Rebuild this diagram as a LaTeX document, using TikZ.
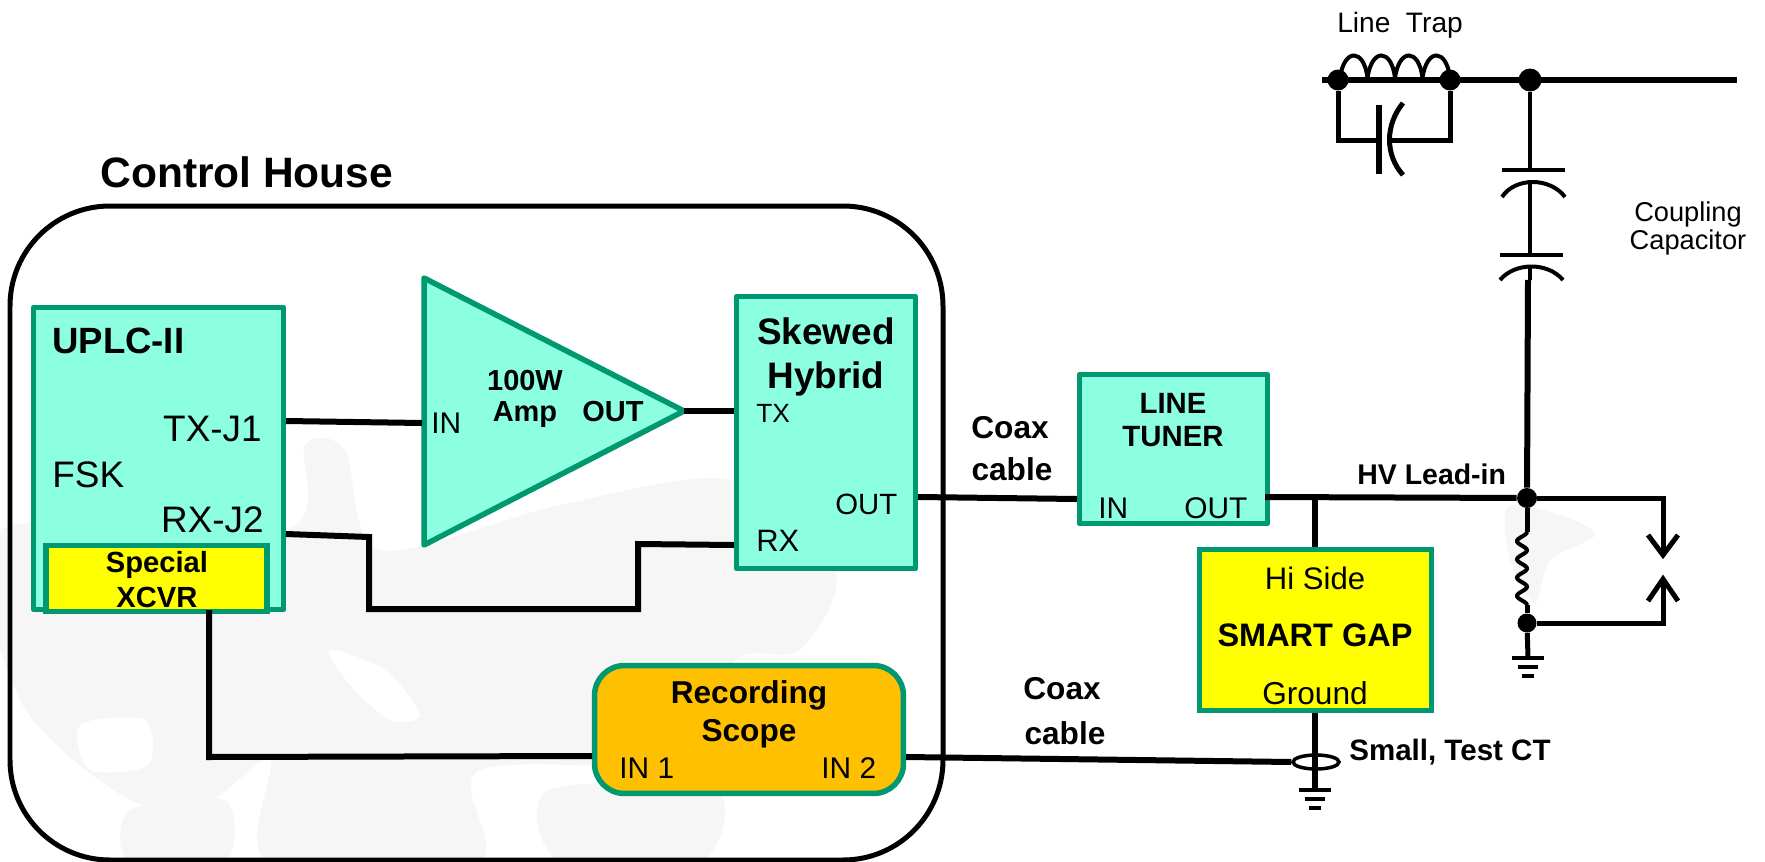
\documentclass[tikz,border=0pt]{standalone}
\usepackage{fontspec}
\usepackage{xcolor}
\setmainfont{Liberation Sans}
\usetikzlibrary{positioning,calc,shapes.geometric}
\definecolor{tealline} {HTML}{009870}
\definecolor{tealfill} {HTML}{8CFFE0}
\definecolor{gapyellow}{HTML}{FFFF00}
\definecolor{scopeamb} {HTML}{FFC000}
\definecolor{mapland}  {HTML}{F6F6F6}
\newcommand{\fsz}[1]{\fontsize{#1}{#1}\selectfont}
\tikzset{
  tealbox/.style={draw=tealline,fill=tealfill,line width=0.11cm,line join=round},
  yellowbox/.style={draw=tealline,fill=gapyellow,line width=0.11cm},
  scopebox/.style={draw=tealline,fill=scopeamb,line width=0.11cm,rounded corners=0.6cm},
  wire/.style={draw=black,line width=0.12cm},
  midwire/.style={draw=black,line width=0.1cm},
  thinwire/.style={draw=black,line width=0.08cm},
  dot/.style={circle,fill=black,inner sep=0pt},
  plain/.style={inner sep=0pt,align=center},
  boldtxt/.style={plain,font=\bfseries}
}
\begin{document}
\begin{tikzpicture}[x=0.02cm,y=-0.02cm]
  \useasboundingbox (0,0) rectangle (1765,862);
  % map behind everything
  \begin{scope}
    \clip (0,425) rectangle (943,862);
    \fill[mapland] plot[smooth cycle] coordinates {(0,530) (285,530) (305,445) (345,450) (380,550) (560,505) (730,480) (835,570) (800,650) (735,660) (700,760) (480,770) (478,862) (268,862) (270,760) (210,800) (130,800) (20,700)};
    \fill[mapland] plot[smooth cycle] coordinates {(130,810) (225,800) (225,862) (130,862)};
    \fill[mapland] plot[smooth cycle] coordinates {(548,790) (715,790) (700,862) (560,862)};
    \fill[white] plot[smooth cycle] coordinates {(80,725) (145,720) (148,765) (90,770)};
    \fill[white] plot[smooth cycle] coordinates {(330,650) (385,670) (420,715) (390,720) (350,685)};
  \end{scope}
  \fill[mapland] plot[smooth cycle] coordinates {(1508,507) (1560,515) (1595,535) (1550,560) (1535,603) (1510,560)};
  % control house
  \draw[black,line width=0.1cm,rounded corners=2cm] (10,206) rectangle (943,860);
  \node[boldtxt,font=\bfseries\fsz{24.2pt},anchor=west] (househead) at (100,172) {Control House};
  % blocks
  \node[tealbox,minimum width=5cm,minimum height=6.04cm] (uplc) at (158.5,458.5) {};
  \node[yellowbox,minimum width=4.42cm,minimum height=1.32cm] (xcvr) at (156.5,578.5) {};
  \coordinate (amptop) at (424,278);
  \coordinate (ampbot) at (424,545);
  \coordinate (amptip) at (684,411);
  \draw[tealbox] (amptop) -- (amptip) -- (ampbot) -- cycle;
  \node[tealbox,minimum width=3.58cm,minimum height=5.44cm] (hybrid) at (826,432.5) {};
  \node[tealbox,minimum width=3.76cm,minimum height=2.98cm] (tuner) at (1173.5,449) {};
  \node[yellowbox,minimum width=4.64cm,minimum height=3.22cm] (smartgap) at (1315.5,630) {};
  \node[scopebox,minimum width=6.18cm,minimum height=2.56cm] (scope) at (749,729.5) {};
  % block texts
  \node[boldtxt,font=\bfseries\fsz{20.8pt},anchor=west] (uplchead) at (52,341) {UPLC-II};
  \node[plain,font=\fsz{21pt},anchor=east] (txj) at (262,429) {TX-J1};
  \node[plain,font=\fsz{21pt},anchor=west] (fsk) at (52,475) {FSK};
  \node[plain,font=\fsz{21pt},anchor=east] (rxj) at (264,520) {RX-J2};
  \node[boldtxt,font=\bfseries\fsz{16.6pt}] (spec) at (157,565) {Special};
  \node[boldtxt,font=\bfseries\fsz{16.6pt}] (xcvrtxt) at (157,597) {XCVR};
  \node[plain,font=\fsz{17pt},anchor=west] (ampin) at (431,423) {IN};
  \node[boldtxt,font=\bfseries\fsz{16.5pt}] (amphead) at (525,381) {100W};
  \node[boldtxt,font=\bfseries\fsz{16.5pt}] (ampsub) at (525,415) {Amp};
  \node[boldtxt,font=\bfseries\fsz{16.5pt},anchor=west] (ampout) at (582,412) {OUT};
  \node[boldtxt,font=\bfseries\fsz{21pt}] (hybtop) at (826,331) {Skewed};
  \node[boldtxt,font=\bfseries\fsz{21pt}] (hybbot) at (826,379) {Hybrid};
  \node[plain,font=\fsz{15pt},anchor=west] (hybtx) at (756,413) {TX};
  \node[plain,font=\fsz{16.7pt},anchor=west] (hybout) at (835,504) {OUT};
  \node[plain,font=\fsz{17.6pt},anchor=west] (hybrx) at (756,541) {RX};
  \node[boldtxt,font=\bfseries\fsz{16.7pt}] (tuntop) at (1173,403) {LINE};
  \node[boldtxt,font=\bfseries\fsz{16.7pt}] (tunbot) at (1173,437) {TUNER};
  \node[plain,font=\fsz{17pt},anchor=west] (tunin) at (1098,508) {IN};
  \node[plain,font=\fsz{17pt},anchor=west] (tunout) at (1184,508) {OUT};
  \node[plain,font=\fsz{17.7pt}] (hiside) at (1315,578) {Hi Side};
  \node[boldtxt,font=\bfseries\fsz{18.5pt}] (gaptxt) at (1315,635) {SMART GAP};
  \node[plain,font=\fsz{18pt}] (gndtxt) at (1315,693) {Ground};
  \node[boldtxt,font=\bfseries\fsz{18pt}] (rectop) at (749,695) {Recording};
  \node[boldtxt,font=\bfseries\fsz{18pt}] (recbot) at (749,734) {Scope};
  \node[plain,font=\fsz{17pt},anchor=west] (inone) at (619,768) {IN 1};
  \node[plain,font=\fsz{17pt},anchor=west] (intwo) at (821,768) {IN 2};
  % free labels
  \node[boldtxt,font=\bfseries\fsz{18pt}] (coaxa) at (1010,428) {Coax};
  \node[boldtxt,font=\bfseries\fsz{18pt}] (cablea) at (1012,469) {cable};
  \node[boldtxt,font=\bfseries\fsz{18pt}] (coaxb) at (1062,689) {Coax};
  \node[boldtxt,font=\bfseries\fsz{18pt}] (cableb) at (1065,733) {cable};
  \node[boldtxt,font=\bfseries\fsz{16.2pt},anchor=west] (leadin) at (1357,474) {HV Lead-in};
  \node[boldtxt,font=\bfseries\fsz{16.8pt},anchor=west] (testct) at (1349,752) {Small, Test CT};
  \node[plain,font=\fsz{16pt}] (linetrap) at (1400,25) {Line\ \ Trap};
  \node[plain,font=\fsz{15.5pt}] (coupa) at (1688,214) {Coupling};
  \node[plain,font=\fsz{15.5pt}] (coupb) at (1688,242) {Capacitor};
  % house wiring
  \coordinate (txport) at (286,421);
  \coordinate (ampport) at (422,423);
  \coordinate (rxport) at (286,534);
  \coordinate (rxa) at (369,537);
  \coordinate (rxb) at (369,609);
  \coordinate (rxc) at (638,609);
  \coordinate (rxd) at (638,544);
  \coordinate (hybrxport) at (734,545);
  \coordinate (xcvrout) at (209,610);
  \coordinate (xcvrb) at (209,757);
  \coordinate (scopea) at (592,756);
  \coordinate (scopeb) at (906,757);
  \draw[wire] (txport) -- (ampport);
  \draw[wire] (rxport) -- (rxa) -- (rxb) -- (rxc) -- (rxd) -- (hybrxport);
  \draw[wire] (amptip) -- (hybrid.west |- amptip);
  \draw[wire] (xcvrout) -- (xcvrb) -- (scopea);
  % line side
  \coordinate (lineleft) at (1322,80);
  \coordinate (lineright) at (1737,80);
  \node[dot,minimum size=0.42cm] (trapl) at (1338,80) {};
  \node[dot,minimum size=0.42cm] (trapr) at (1450,80) {};
  \node[dot,minimum size=0.46cm] (capdot) at (1530,80) {};
  \node[dot,minimum size=0.4cm] (leaddot) at (1527,498) {};
  \node[dot,minimum size=0.38cm] (gapdot) at (1527,623) {};
  \coordinate (hybport) at (918,497);
  \coordinate (tunerin) at (1077,499);
  \coordinate (tunerout) at (1265,497);
  \coordinate (gaptap) at (1315,497);
  \draw[wire] (hybport) -- (tunerin);
  \draw[wire] (tunerout) -- (leaddot);
  \draw[wire] (gaptap) -- (smartgap.north -| gaptap);
  \draw[wire] (lineleft) -- (lineright);
  % trap
  \foreach \i in {0,1,2,3}
    \draw[thinwire] (1340+\i*27.5,78) .. controls (1344+\i*27.5,48) and (1364+\i*27.5,48) .. (1367.5+\i*27.5,78);
  \coordinate (trapcl) at (1379,140);
  \coordinate (trapcr) at (1391,140);
  \draw[midwire] (trapl) -- (trapl |- trapcl) -- (trapcl);
  \draw[midwire] (trapr) -- (trapr |- trapcr) -- (trapcr);
  \draw[line width=0.11cm] (1379,105) -- (1379,174);
  \draw[midwire] (1403,103) .. controls (1385,125) and (1385,155) .. (1403,175);
  % coupling capacitor
  \coordinate (cplatea) at (1530,170);
  \coordinate (cplateb) at (1530,255);
  \coordinate (cbotwire) at (1528,280);
  \draw[thinwire] (capdot) -- (cplatea);
  \draw[thinwire] (1502,170) -- (1565,170);
  \draw[thinwire] (1502,197) .. controls (1515,177) and (1550,177) .. (1565,197);
  \draw[thinwire] (1530,183) -- (cplateb);
  \draw[thinwire] (1500,255) -- (1563,255);
  \draw[thinwire] (1500,280) .. controls (1515,262) and (1548,262) .. (1563,280);
  \draw[thinwire] (1530,268) -- (1530,280);
  \draw[wire] (cbotwire) -- (leaddot);
  % lead in, gap and grounds
  \coordinate (coilt) at (1527,532);
  \coordinate (coilb) at (1527,605);
  \coordinate (uparc) at (1663,498);
  \coordinate (lowarc) at (1663,623);
  \coordinate (uptip) at (1663,555);
  \coordinate (lowtip) at (1663,579);
  \draw[midwire] (leaddot) -- (coilt);
  \draw[thinwire] plot[domain=0:4,samples=70,smooth] ({1522+5*cos(360*\x)},{532+18.25*\x});
  \draw[midwire] (coilb) -- (gapdot);
  \draw[midwire] (leaddot) -- (uparc) -- (uptip);
  \draw[midwire] (gapdot) -- (lowarc) -- (lowtip);
  \draw[midwire] (1648,535) -- (uptip) -- (1678,535);
  \draw[midwire] (1648,601) -- (lowtip) -- (1678,601);
  \coordinate (gndlead) at (1528,658);
  \coordinate (gndct) at (1315,790);
  \draw[midwire] (gapdot) -- (gndlead);
  \draw[wire] (smartgap.south -| gndct) -- (gndct);
  \foreach \gx/\gy in {1528/658,1315/790} {
    \draw[line width=0.09cm] (\gx-16,\gy) -- (\gx+16,\gy);
    \draw[line width=0.09cm] (\gx-10,\gy+9) -- (\gx+10,\gy+9);
    \draw[line width=0.09cm] (\gx-6,\gy+18) -- (\gx+6,\gy+18);
  }
  \node[draw=black,line width=0.07cm,ellipse,minimum width=0.92cm,minimum height=0.28cm,inner sep=0pt] (ctring) at (1316,762) {};
  \draw[wire] (scopeb) -- (ctring.west);
\end{tikzpicture}
\end{document}
